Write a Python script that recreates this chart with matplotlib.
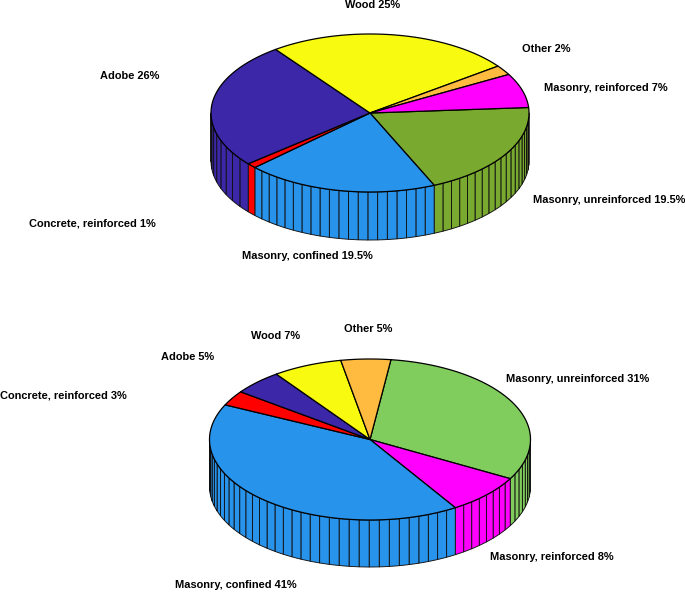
import numpy as np
import matplotlib
matplotlib.use("Agg")
import matplotlib.pyplot as plt

# clockwise from each pie's start angle
top_labels = ["Masonry, unreinforced 19.5%", "Masonry, confined 19.5%", "Concrete, reinforced 1%",
              "Adobe 26%", "Wood 25%", "Other 2%", "Masonry, reinforced 7%"]
top_values = [19.5, 19.5, 1, 26, 25, 2, 7]
top_colors = ["#79A92F", "#2893EB", "#FF0000", "#3B27A8", "#F8FB10", "#FFBB3F", "#FF00FF"]
top_ribs = [20, 20, 1, 19, 25, 2, 7]

bot_labels = ["Masonry, unreinforced 31%", "Masonry, reinforced 8%", "Masonry, confined 41%",
              "Concrete, reinforced 3%", "Adobe 5%", "Wood 7%", "Other 5%"]
bot_values = [31, 8, 41, 3, 5, 7, 5]
bot_colors = ["#80CC5C", "#FF00FF", "#2893EB", "#FF0000", "#3B27A8", "#F8FB10", "#FFBB3F"]
bot_ribs = [31, 8, 41, 3, 5, 7, 5]

# left edge and vertical centre of each label, in pixels
top_label_pos = [(533, 200), (242, 256), (29, 224), (100, 76), (345, 5.5), (522, 49), (544, 88)]
bot_label_pos = [(506, 379), (490, 557), (175, 585), (0, 395), (161, 357), (251, 336), (344, 329)]

fig = plt.figure(figsize=(6.85, 5.92), dpi=100)
ax = fig.add_axes([0, 0, 1, 1])
ax.set_xlim(0, 685)
ax.set_ylim(592, 0)
ax.axis("off")


def pie3(values, colors, ribs_per_slice, cx, cy, rx, ry, h, start):
    total = sum(values)
    edges = start - np.cumsum([0] + list(values)) * 360.0 / total
    for a0, a1, n, col in zip(edges[:-1], edges[1:], ribs_per_slice, colors):
        ribs = np.linspace(a0, a1, n + 1)
        for r0, r1 in zip(ribs[:-1], ribs[1:]):
            # keep only the part of a rib on the front half
            lo, hi = min(r0, r1), max(r0, r1)
            turn = np.floor((hi + 180) / 360.0) * 360.0
            lo2, hi2 = lo - turn, hi - turn
            lo2 = max(lo2, -180.0)
            hi2 = min(hi2, 0.0)
            if hi2 <= lo2:
                continue
            t = np.radians(np.linspace(lo2, hi2, 5))
            x = cx + rx * np.cos(t)
            y = cy - ry * np.sin(t)
            ax.fill(np.r_[x, x[::-1]], np.r_[y, y[::-1] + h], facecolor=col,
                    edgecolor="#101010", linewidth=0.65, joinstyle="round")
    for a0, a1, col in zip(edges[:-1], edges[1:], colors):
        t = np.radians(np.linspace(a0, a1, 120))
        x = np.r_[cx, cx + rx * np.cos(t)]
        y = np.r_[cy, cy - ry * np.sin(t)]
        ax.fill(x, y, facecolor=col, edgecolor="black", linewidth=0.9, joinstyle="round")


def add_labels(labels, positions):
    for s, (px, py) in zip(labels, positions):
        ax.text(px, py, s, ha="left", va="center", fontsize=7.88, fontweight="bold",
                family="Liberation Sans", color="black", clip_on=False)


pie3(top_values, top_colors, top_ribs, 370, 113, 159, 79, 48, 4)
pie3(bot_values, bot_colors, bot_ribs, 370, 439.5, 160.5, 80.5, 47, 82.5)
add_labels(top_labels, top_label_pos)
add_labels(bot_labels, bot_label_pos)

fig.savefig("out.png", dpi=100, facecolor="white")
